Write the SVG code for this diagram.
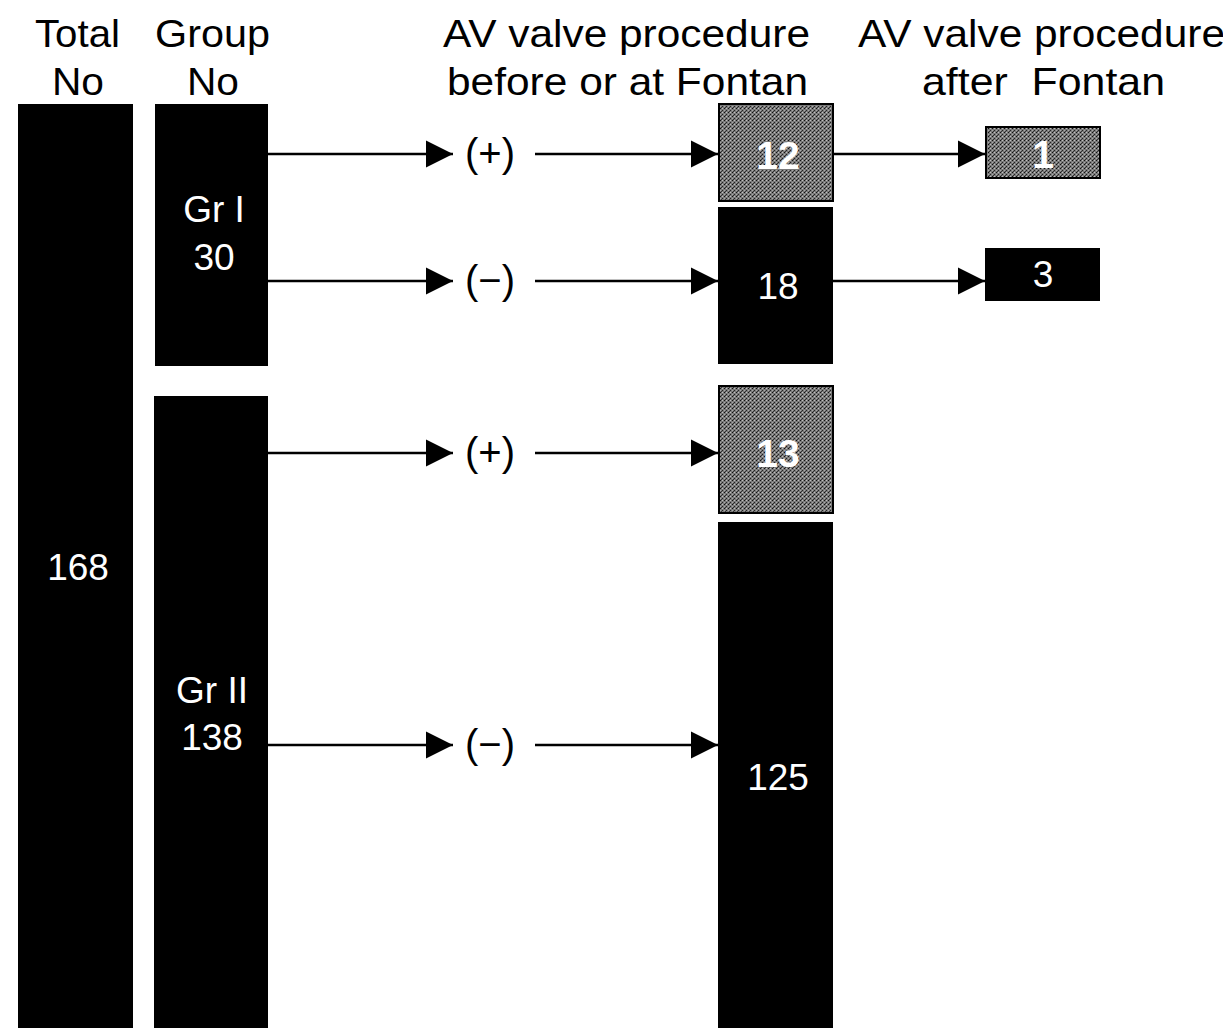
<svg xmlns="http://www.w3.org/2000/svg" width="1223" height="1028" viewBox="0 0 1223 1028">
<style>
.h{font-family:"Liberation Sans",Arial,sans-serif;font-size:39px;fill:#000}
.w{font-family:"Liberation Sans",Arial,sans-serif;font-size:37px;fill:#fff;text-anchor:middle}
.wb{font-family:"Liberation Sans",Arial,sans-serif;font-size:39px;font-weight:bold;fill:#fff;text-anchor:middle}
.l{font-family:"Liberation Sans",Arial,sans-serif;font-size:40px;fill:#000;text-anchor:middle}
.bar{fill:#000}
.gray{fill:url(#dots);stroke:#000;stroke-width:2}
.c{stroke:#000;stroke-width:2.5;fill:none;marker-end:url(#ah)}
</style>
<defs>
<pattern id="dots" width="4" height="4" patternUnits="userSpaceOnUse">
<rect width="4" height="4" fill="#7a7a7a"/>
<rect x="0" y="0" width="1" height="1" fill="#111"/>
<rect x="2" y="2" width="1" height="1" fill="#222"/>
<rect x="1" y="3" width="1" height="1" fill="#333"/>
<rect x="2" y="0" width="1" height="1" fill="#c0c0c0"/>
<rect x="0" y="2" width="1" height="1" fill="#aaa"/>
</pattern>
<marker id="ah" markerWidth="11" markerHeight="11" refX="11" refY="5.5" orient="auto" markerUnits="strokeWidth">
<path d="M0,0 L11,5.5 L0,11 Z" fill="#000"/>
</marker>
</defs>
<rect width="1223" height="1028" fill="#fff"/>
<g id="headers">
<text class="h" x="35" y="47" textLength="85" lengthAdjust="spacingAndGlyphs">Total</text>
<text class="h" x="52" y="95" textLength="52" lengthAdjust="spacingAndGlyphs">No</text>
<text class="h" x="155" y="47" textLength="115" lengthAdjust="spacingAndGlyphs">Group</text>
<text class="h" x="187" y="95" textLength="52" lengthAdjust="spacingAndGlyphs">No</text>
<text class="h" x="443" y="47" textLength="367" lengthAdjust="spacingAndGlyphs">AV valve procedure</text>
<text class="h" x="447" y="95" textLength="361" lengthAdjust="spacingAndGlyphs">before or at Fontan</text>
<text class="h" x="858" y="47" textLength="367" lengthAdjust="spacingAndGlyphs">AV valve procedure</text>
<text class="h" x="922" y="95" textLength="243" lengthAdjust="spacingAndGlyphs" xml:space="preserve">after  Fontan</text>
</g>
<g id="total">
<rect class="bar" x="18" y="104" width="115" height="924"/>
<text class="w" x="78" y="580">168</text>
</g>
<g id="gr1">
<rect class="bar" x="155" y="104" width="113" height="262"/>
<text class="w" x="214" y="222">Gr I</text>
<text class="w" x="214" y="270">30</text>
</g>
<g id="gr2">
<rect class="bar" x="154" y="396" width="114" height="632"/>
<text class="w" x="212" y="703">Gr II</text>
<text class="w" x="212" y="750">138</text>
</g>
<g id="n12">
<rect class="gray" x="719" y="104" width="114" height="97"/>
<text class="wb" x="778" y="169">12</text>
</g>
<g id="n18">
<rect class="bar" x="718" y="207" width="115" height="157"/>
<text class="w" x="778" y="299">18</text>
</g>
<g id="n13">
<rect class="gray" x="719" y="386" width="114" height="127"/>
<text class="wb" x="778" y="467">13</text>
</g>
<g id="n125">
<rect class="bar" x="718" y="522" width="115" height="506"/>
<text class="w" x="778" y="790">125</text>
</g>
<g id="n1">
<rect class="gray" x="986" y="127" width="114" height="51"/>
<text class="wb" x="1043" y="168">1</text>
</g>
<g id="n3">
<rect class="bar" x="985" y="248" width="115" height="53"/>
<text class="w" x="1043" y="287">3</text>
</g>
<g id="labels">
<text class="l" x="490" y="167">(+)</text>
<text class="l" x="490" y="294">(−)</text>
<text class="l" x="490" y="466">(+)</text>
<text class="l" x="490" y="758">(−)</text>
</g>
<g id="connectors">
<path class="c" d="M268,154 H453"/>
<path class="c" d="M535,154 H718"/>
<path class="c" d="M268,281 H453"/>
<path class="c" d="M535,281 H718"/>
<path class="c" d="M268,453 H453"/>
<path class="c" d="M535,453 H718"/>
<path class="c" d="M268,745 H453"/>
<path class="c" d="M535,745 H718"/>
<path class="c" d="M833,154 H985"/>
<path class="c" d="M833,281 H985"/>
</g>
</svg>
